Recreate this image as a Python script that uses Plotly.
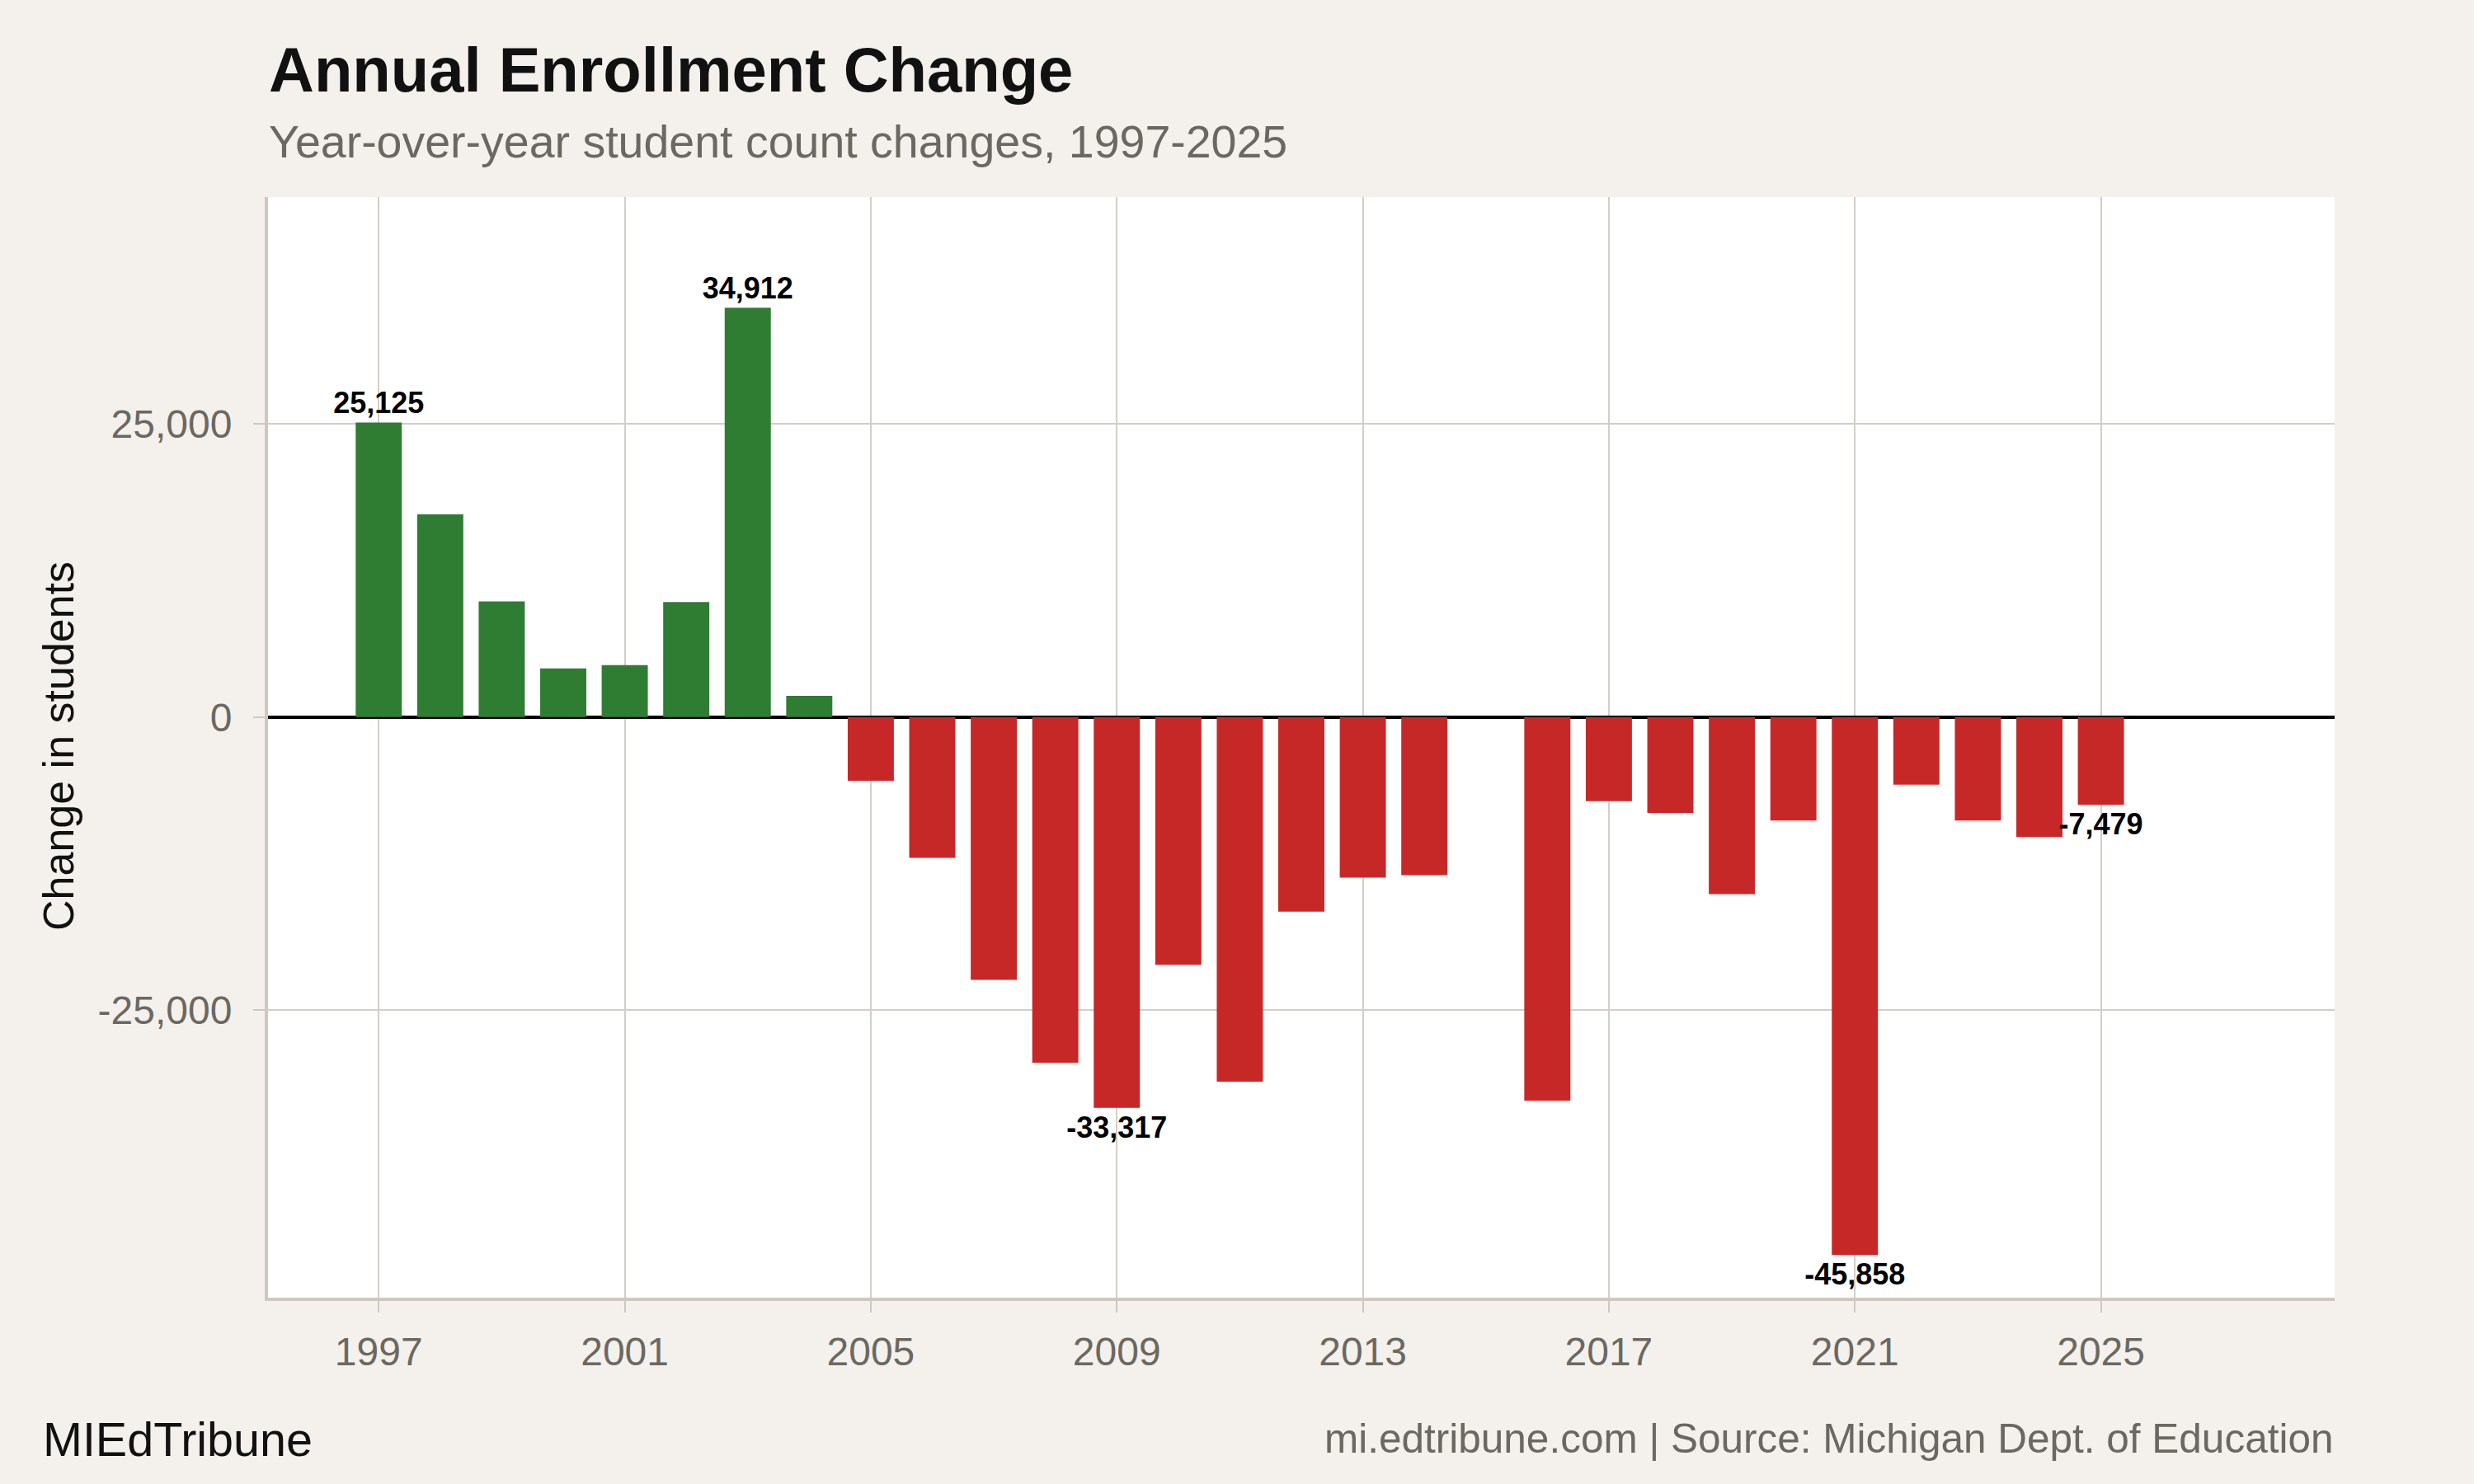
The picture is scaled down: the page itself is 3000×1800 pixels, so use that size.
import plotly.graph_objects as go

years = list(range(1997, 2026))
changes = [25125, 17300, 9870, 4160, 4430, 9820, 34912, 1810,
           -5430, -11990, -22400, -29470, -33317, -21110, -31080, -16590,
           -13690, -13480, None, -32700, -7170, -8160, -15080, -8810,
           -45858, -5760, -8810, -10220, -7479]
label_years = [1997, 2003, 2009, 2021, 2025]
tick_years = [1997, 2001, 2005, 2009, 2013, 2017, 2021, 2025]
y_ticks = [-25000, 0, 25000]
y_tick_text = ['-25,000', '0', '25,000']

GREEN = '#2e7d32'
RED = '#c62828'
PAPER = '#f4f1ec'
GRID = '#d3cec6'
AXIS = '#cfc8bf'
GRAY = '#6b6862'
FONT = 'Liberation Sans, Arial, Helvetica, sans-serif'

colors = [GREEN if (v is not None and v > 0) else RED for v in changes]
labels = []
for y, v in zip(years, changes):
    if y in label_years and v is not None:
        labels.append(f'{v:,}')
    else:
        labels.append('')

fig = go.Figure()
fig.add_trace(go.Bar(
    x=years, y=changes, width=0.75,
    marker=dict(color=colors, line=dict(width=0)),
    text=labels, textposition='outside', constraintext='none',
    textangle=0, cliponaxis=False,
    textfont=dict(family=FONT, size=36, color='black', weight='bold'),
    hoverinfo='x+y', showlegend=False,
))

# plot area in pixels: left 325, right 2831, top 239, bottom 1574
W, H = 3000, 1800
L, R, T, B = 325, 2831, 239, 1574


def px(x):
    return (x - L) / (R - L)


def py(y):
    return (B - y) / (B - T)


fig.update_layout(
    width=W, height=H,
    margin=dict(l=L, r=W - R, t=T, b=H - B),
    paper_bgcolor=PAPER, plot_bgcolor='white',
    font=dict(family=FONT, color=GRAY),
    annotations=[
        dict(text='Annual Enrollment Change', xref='paper', yref='paper',
             x=px(324), y=py(85), xanchor='left', yanchor='middle', showarrow=False,
             font=dict(size=76, color='#111111', weight='bold', family=FONT)),
        dict(text='Year-over-year student count changes, 1997-2025', xref='paper', yref='paper',
             x=px(324), y=py(172), xanchor='left', yanchor='middle', showarrow=False,
             font=dict(size=55.5, color=GRAY, family=FONT)),
        dict(text='Change in students', xref='paper', yref='paper',
             x=px(71), y=py(905), xanchor='center', yanchor='middle', showarrow=False,
             textangle=-90, font=dict(size=52, color='#111111', family=FONT)),
        dict(text='MIEdTribune', xref='paper', yref='paper',
             x=px(50), y=py(1746), xanchor='left', yanchor='middle', showarrow=False,
             font=dict(size=57.5, color='#111111', family=FONT)),
        dict(text='mi.edtribune.com | Source: Michigan Dept. of Education', xref='paper', yref='paper',
             x=1, y=py(1744), xanchor='right', yanchor='middle', showarrow=False,
             font=dict(size=49.5, color=GRAY, family=FONT)),
    ],
)

fig.update_xaxes(
    range=[1995.2, 2028.8], tickvals=tick_years,
    showgrid=True, gridcolor=GRID, gridwidth=2,
    showline=True, linecolor=AXIS, linewidth=4,
    ticks='outside', ticklen=14, tickwidth=2, tickcolor=AXIS,
    tickfont=dict(size=48, color=GRAY, family=FONT),
    ticklabelstandoff=6,
    zeroline=False,
)
fig.update_yaxes(
    range=[-49500, 44350], tickvals=y_ticks, ticktext=y_tick_text,
    showgrid=True, gridcolor=GRID, gridwidth=2,
    showline=True, linecolor=AXIS, linewidth=4,
    ticks='outside', ticklen=14, tickwidth=2, tickcolor=AXIS,
    tickfont=dict(size=48, color=GRAY, family=FONT),
    ticklabelstandoff=16,
    zeroline=True, zerolinecolor='black', zerolinewidth=4,
)

fig.write_html('out.html', config={'displayModeBar': False},
               post_script="document.body.style.margin='0';")
